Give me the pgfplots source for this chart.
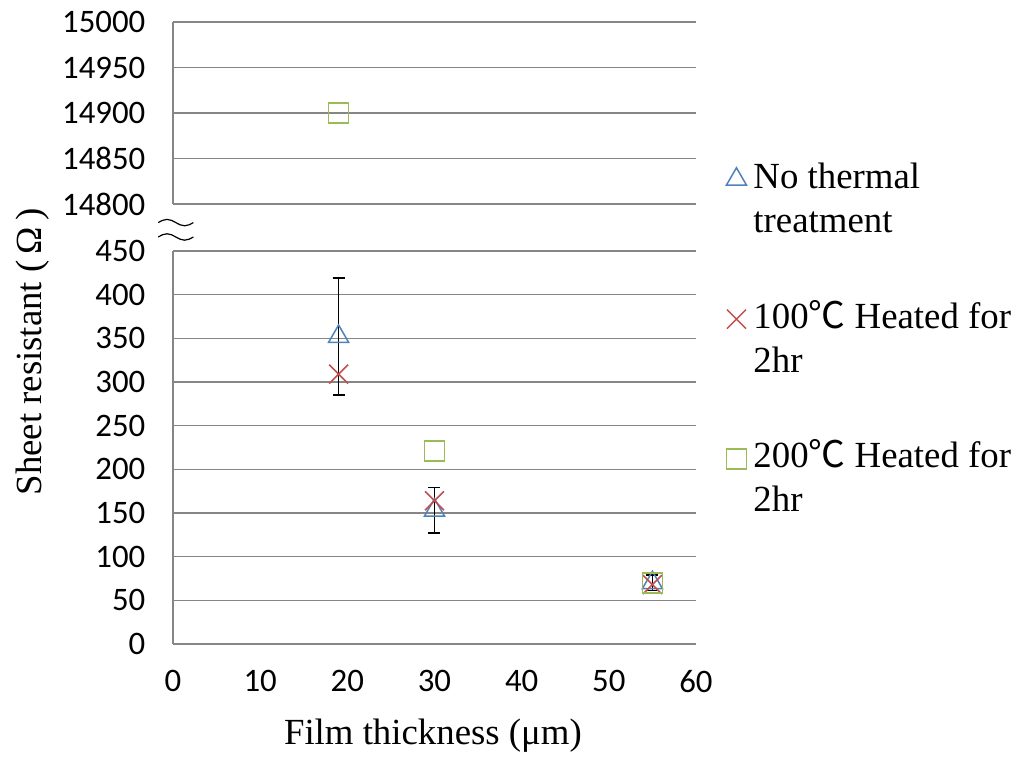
\documentclass[border=0pt]{standalone}
\usepackage{pgfplots}
\pgfplotsset{compat=1.18}
\usepackage{fontspec}
\setmainfont{Liberation Serif}
\newfontfamily\calibri{Carlito}
\newfontfamily\cjk{Noto Sans CJK SC}
\definecolor{cblue}{HTML}{4F81BD}
\definecolor{cred}{HTML}{C0504D}
\definecolor{cgreen}{HTML}{9BBB59}
\definecolor{gridgray}{HTML}{868686}
\pgfplotsset{
  brk/.style={
    scale only axis, width=261.5pt,
    xmin=0, xmax=60,
    axis lines*=left,
    axis line style={gridgray, line width=0.75pt},
    ymajorgrids, grid style={gridgray, line width=0.75pt},
    major tick length=0pt,
    tick label style={font=\calibri\fontsize{16.4}{19}\selectfont},
    /pgf/number format/assume math mode=true,
    /pgf/number format/set thousands separator={},
    scaled ticks=false,
    yticklabel style={xshift=-10.3pt},
    xticklabel style={yshift=-9.8pt},
  },
  mtri/.style={only marks, mark=triangle, mark size=5.8pt, cblue, mark options={line width=0.75pt}},
  mx/.style={only marks, mark=x, mark size=6.7pt, cred, mark options={line width=0.75pt}},
  msq/.style={only marks, mark=square, mark size=5pt, cgreen, mark options={line width=0.75pt}},
}
\begin{document}
\begin{tikzpicture}
\path[use as bounding box] (-86.5pt,-57pt) rectangle (425.5pt,322pt);
% top panel
\begin{axis}[brk, at={(0pt,220pt)}, anchor=south west, height=91pt,
  ymin=14800, ymax=15000, ytick={14800,14850,14900,14950,15000}, xtick=\empty]
\addplot[msq] coordinates {(19,14900)};
\end{axis}
% bottom panel
\begin{axis}[brk, at={(0pt,0pt)}, anchor=south west, height=196.5pt,
  ymin=0, ymax=450, ytick={0,50,...,450}, xtick={0,10,...,60},
  xlabel={Film thickness (μm)},
  ylabel={Sheet resistant (\,Ω\,)},
  every axis x label/.style={at={(axis description cs:0.497,-0.257)}, anchor=base, font=\fontsize{18.4}{22}\selectfont},
  every axis y label/.style={at={(axis description cs:-0.2505,0.743)}, rotate=90, anchor=base, font=\fontsize{18.4}{22}\selectfont},
  legend style={at={(1.0574,1.249)}, anchor=north west, draw=none, fill=none, inner sep=0pt,
    row sep=49pt, font=\fontsize{18.4}{22}\selectfont,
    cells={anchor=base west, inner ysep=0pt},
    /tikz/every odd column/.append style={column sep=1.5pt}},
  legend image post style={yshift=4.5pt},
]
\addplot+[mtri, error bars/.cd, y dir=both, y explicit,
  error bar style={black, line width=0.7pt},
  error mark options={rotate=90, black, mark size=3pt, line width=0.7pt}]
  coordinates {(19,352) +- (0,67) (30,153) +- (0,26) (55,70) +- (0,9)};
\addlegendentry{\begin{tabular}[t]{@{}l@{}}No thermal\\treatment\end{tabular}}
\addplot[mx] coordinates {(19,309) (30,164) (55,68)};
\addlegendentry{\begin{tabular}[t]{@{}l@{}}100{\cjk ℃} Heated for\\2hr\end{tabular}}
\addplot[msq] coordinates {(30,221) (55,70)};
\addlegendentry{\begin{tabular}[t]{@{}l@{}}200{\cjk ℃} Heated for\\2hr\end{tabular}}
\end{axis}
% axis break symbol
\draw[line width=0.6pt] (-7.4pt,210.7pt) sin (-3pt,212.3pt) cos (1.4pt,210.7pt) sin (5.8pt,209.1pt) cos (10.2pt,210.7pt);
\draw[line width=0.6pt] (-7.4pt,203.5pt) sin (-3pt,205.1pt) cos (1.4pt,203.5pt) sin (5.8pt,201.9pt) cos (10.2pt,203.5pt);
\end{tikzpicture}
\end{document}
